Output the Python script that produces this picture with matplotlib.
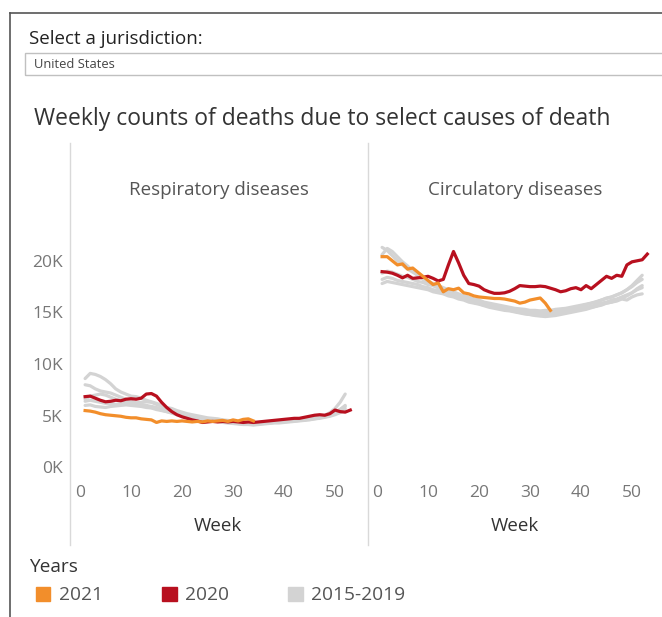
import matplotlib
matplotlib.use("Agg")
import matplotlib.pyplot as plt
from matplotlib.patches import Patch, Rectangle
from matplotlib.lines import Line2D

plt.rcParams['font.family'] = ['Open Sans', 'DejaVu Sans']

# ---- data (weekly deaths, thousands) ----
weeks_2020 = list(range(1, 54))
weeks_2021 = list(range(1, 35))
weeks_base = list(range(1, 53))

resp_2020 = [6.85, 6.9, 6.7, 6.5, 6.35, 6.4, 6.5, 6.45, 6.6, 6.65, 6.6, 6.7, 7.1, 7.15, 6.9,
             6.3, 5.8, 5.4, 5.1, 4.9, 4.75, 4.6, 4.5, 4.35, 4.4, 4.45, 4.4, 4.45, 4.4, 4.45,
             4.4, 4.35, 4.4, 4.35, 4.4, 4.45, 4.5, 4.55, 4.6, 4.65, 4.7, 4.75, 4.75, 4.85,
             4.95, 5.05, 5.1, 5.05, 5.2, 5.55, 5.4, 5.35, 5.55]
resp_2021 = [5.5, 5.45, 5.35, 5.2, 5.1, 5.05, 5.0, 4.95, 4.85, 4.8, 4.8, 4.7, 4.65, 4.6, 4.35,
             4.5, 4.45, 4.5, 4.45, 4.5, 4.45, 4.4, 4.45, 4.4, 4.5, 4.45, 4.5, 4.55, 4.45, 4.6,
             4.5, 4.65, 4.7, 4.5]
resp_base = [
    [8.6, 9.1, 9.0, 8.8, 8.5, 8.1, 7.6, 7.3, 7.1, 6.9, 6.85, 6.7, 6.5, 6.35, 6.2, 6.0, 5.8,
     5.7, 5.5, 5.35, 5.2, 5.1, 5.0, 4.9, 4.8, 4.75, 4.7, 4.6, 4.55, 4.5, 4.45, 4.4, 4.35, 4.3,
     4.3, 4.35, 4.4, 4.4, 4.45, 4.5, 4.5, 4.55, 4.6, 4.6, 4.7, 4.75, 4.85, 4.95, 5.1, 5.3, 5.6, 6.0],
    [8.0, 7.9, 7.6, 7.4, 7.3, 7.2, 7.0, 6.8, 6.6, 6.4, 6.2, 6.1, 6.0, 5.9, 5.8, 5.6, 5.5, 5.35,
     5.2, 5.1, 5.0, 4.9, 4.85, 4.8, 4.7, 4.65, 4.6, 4.5, 4.45, 4.4, 4.35, 4.3, 4.3, 4.25, 4.3,
     4.3, 4.35, 4.4, 4.45, 4.45, 4.5, 4.55, 4.6, 4.65, 4.7, 4.8, 4.9, 5.05, 5.3, 5.7, 6.3, 7.1],
    [6.4, 6.5, 6.4, 6.3, 6.2, 6.2, 6.1, 6.15, 6.2, 6.3, 6.2, 6.0, 5.9, 5.8, 5.7, 5.55, 5.4, 5.3,
     5.15, 5.05, 4.95, 4.85, 4.75, 4.7, 4.6, 4.55, 4.5, 4.4, 4.35, 4.3, 4.25, 4.2, 4.2, 4.15,
     4.2, 4.25, 4.3, 4.35, 4.4, 4.4, 4.45, 4.5, 4.55, 4.6, 4.65, 4.7, 4.8, 4.9, 5.0, 5.2, 5.4, 5.7],
    [6.0, 6.05, 5.9, 5.85, 5.8, 5.9, 5.95, 6.0, 6.05, 6.0, 5.95, 5.9, 5.8, 5.75, 5.6, 5.5, 5.4,
     5.25, 5.1, 5.0, 4.9, 4.8, 4.7, 4.65, 4.55, 4.5, 4.45, 4.35, 4.3, 4.25, 4.2, 4.15, 4.15, 4.1,
     4.15, 4.2, 4.25, 4.3, 4.3, 4.35, 4.4, 4.45, 4.5, 4.55, 4.6, 4.7, 4.75, 4.85, 4.95, 5.1, 5.3, 5.5],
    [6.6, 6.9, 7.0, 7.1, 7.0, 6.8, 6.6, 6.5, 6.4, 6.3, 6.25, 6.3, 6.35, 6.3, 6.1, 5.9, 5.7, 5.5,
     5.35, 5.2, 5.05, 4.95, 4.85, 4.75, 4.65, 4.6, 4.5, 4.45, 4.4, 4.35, 4.3, 4.25, 4.25, 4.2,
     4.25, 4.3, 4.3, 4.35, 4.4, 4.45, 4.5, 4.5, 4.55, 4.6, 4.7, 4.75, 4.85, 5.0, 5.15, 5.35, 5.6, 5.9],
]

circ_2020 = [18.95, 18.9, 18.8, 18.6, 18.35, 18.6, 18.3, 18.35, 18.4, 18.5, 18.3, 18.05, 18.2,
             19.6, 20.9, 19.8, 18.6, 17.8, 17.7, 17.55, 17.2, 17.0, 16.85, 16.85, 16.9, 17.05,
             17.3, 17.6, 17.55, 17.5, 17.5, 17.55, 17.5, 17.35, 17.2, 17.0, 17.1, 17.3, 17.4,
             17.2, 17.6, 17.3, 17.7, 18.1, 18.5, 18.3, 18.6, 18.5, 19.6, 19.9, 20.0, 20.1, 20.65]
circ_2021 = [20.4, 20.4, 20.0, 19.6, 19.7, 19.2, 19.3, 18.9, 18.5, 18.1, 17.7, 17.85, 17.0, 17.3,
             17.2, 17.35, 16.9, 16.8, 16.6, 16.5, 16.45, 16.4, 16.35, 16.35, 16.3, 16.2, 16.1,
             15.9, 16.0, 16.2, 16.3, 16.4, 15.9, 15.2]
circ_base = [
    [21.3, 21.0, 20.5, 20.0, 19.6, 19.2, 18.9, 18.6, 18.3, 18.0, 17.8, 17.6, 17.4, 17.2, 17.0,
     16.8, 16.6, 16.5, 16.3, 16.2, 16.0, 15.9, 15.8, 15.7, 15.6, 15.5, 15.4, 15.35, 15.3, 15.2,
     15.2, 15.15, 15.2, 15.2, 15.3, 15.35, 15.4, 15.5, 15.6, 15.7, 15.8, 15.9, 16.0, 16.2, 16.4,
     16.5, 16.7, 16.9, 17.2, 17.5, 17.9, 18.2],
    [20.6, 21.2, 20.9, 20.4, 19.9, 19.5, 19.0, 18.6, 18.2, 17.9, 17.6, 17.4, 17.2, 17.0, 16.8,
     16.6, 16.4, 16.25, 16.1, 16.0, 15.85, 15.7, 15.6, 15.5, 15.4, 15.3, 15.25, 15.2, 15.1,
     15.05, 15.0, 15.0, 15.05, 15.1, 15.15, 15.25, 15.3, 15.4, 15.5, 15.6, 15.75, 15.9, 16.05,
     16.2, 16.35, 16.5, 16.7, 16.9, 17.2, 17.6, 18.1, 18.6],
    [18.8, 19.0, 18.9, 18.7, 18.5, 18.4, 18.2, 18.0, 17.9, 17.7, 17.6, 17.4, 17.2, 17.0, 16.8,
     16.6, 16.5, 16.3, 16.2, 16.0, 15.9, 15.75, 15.6, 15.5, 15.4, 15.3, 15.2, 15.1, 15.0, 14.95,
     14.9, 14.9, 14.85, 14.9, 14.95, 15.0, 15.1, 15.2, 15.3, 15.4, 15.5, 15.6, 15.75, 15.9, 16.0,
     16.2, 16.3, 16.5, 16.7, 16.9, 17.2, 17.4],
    [18.2, 18.4, 18.3, 18.1, 18.0, 17.9, 17.8, 17.7, 17.5, 17.4, 17.2, 17.1, 16.9, 16.8, 16.6,
     16.4, 16.3, 16.1, 16.0, 15.85, 15.7, 15.6, 15.5, 15.4, 15.3, 15.2, 15.1, 15.0, 14.9, 14.8,
     14.75, 14.7, 14.7, 14.75, 14.8, 14.9, 15.0, 15.1, 15.2, 15.3, 15.4, 15.5, 15.6, 15.8, 15.9,
     16.0, 16.1, 16.3, 16.2, 16.5, 16.7, 16.8],
    [17.8, 18.0, 17.9, 17.8, 17.7, 17.6, 17.5, 17.4, 17.3, 17.2, 17.0, 16.9, 16.8, 16.6, 16.5,
     16.3, 16.2, 16.0, 15.9, 15.8, 15.65, 15.5, 15.4, 15.3, 15.2, 15.15, 15.05, 14.95, 14.85,
     14.8, 14.7, 14.65, 14.6, 14.65, 14.7, 14.8, 14.9, 15.0, 15.1, 15.2, 15.3, 15.45, 15.6, 15.7,
     15.9, 16.0, 16.2, 16.4, 16.6, 16.9, 17.3, 17.6],
]

panel_titles = ['Respiratory diseases', 'Circulatory diseases']
y_ticks = [0, 5, 10, 15, 20]
y_tick_labels = ['0K', '5K', '10K', '15K', '20K']
x_ticks = [0, 10, 20, 30, 40, 50]
legend_labels = ['2021', '2020', '2015-2019']

c_2021 = '#f28e2b'
c_2020 = '#b8101f'
c_base = '#d3d3d3'
tick_col = '#777777'
text_col = '#333333'

W, H = 662, 617
fig = plt.figure(figsize=(W / 100, H / 100), dpi=100)

def fx(px):
    return px / W

def fy(py):
    return 1 - py / H

# outer frame (top and left edge)
fig.add_artist(Line2D([fx(10), 1], [fy(13), fy(13)], color='#555555', lw=1.2))
fig.add_artist(Line2D([fx(10), fx(10)], [fy(13), 0], color='#555555', lw=1.2))

fig.text(fx(29), fy(39), 'Select a jurisdiction:', fontsize=13.5, color='#222222', va='center')
fig.add_artist(Rectangle((fx(25), fy(75)), 1 - fx(25) + 0.01, 22 / H, fill=False,
                         ec='#c0c0c0', lw=1))
fig.text(fx(34), fy(64), 'United States', fontsize=9.3, color='#444444', va='center')

fig.text(fx(34), fy(119), 'Weekly counts of deaths due to select causes of death',
         fontsize=16.5, color=text_col, va='center')

# panels
ax_top, ax_bot = 143, 545
px_per_week = 5.1
px_per_k = 10.33
zero_px = 467.4
panels = [
    (70, 368, 80, resp_2020, resp_2021, resp_base),
    (368, 662, 377, circ_2020, circ_2021, circ_base),
]

for i, (left, right, x0, d20, d21, base) in enumerate(panels):
    ax = fig.add_axes([fx(left), fy(ax_bot), (right - left) / W, (ax_bot - ax_top) / H])
    for s in base:
        ax.plot(weeks_base, s, color=c_base, lw=2.3, solid_capstyle='round', zorder=1)
    ax.plot(weeks_2020, d20, color=c_2020, lw=2.3, zorder=2)
    ax.plot(weeks_2021, d21, color=c_2021, lw=2.3, zorder=3)

    ax.set_xlim(-(x0 - left) / px_per_week, (right - x0) / px_per_week)
    ax.set_ylim((zero_px - ax_bot) / px_per_k, (zero_px - ax_top) / px_per_k)

    for sp in ['top', 'right', 'bottom']:
        ax.spines[sp].set_visible(False)
    ax.spines['left'].set_color('#d9d9d9')
    ax.spines['left'].set_linewidth(1)

    ax.set_xticks(x_ticks)
    ax.tick_params(axis='x', length=0, pad=-43, labelsize=12.5, labelcolor=tick_col)
    ax.set_yticks(y_ticks)
    if i == 0:
        ax.set_yticklabels(y_tick_labels)
        ax.tick_params(axis='y', length=0, pad=5, labelsize=12.5, labelcolor=tick_col)
    else:
        ax.tick_params(axis='y', length=0, labelleft=False)

    ax.set_title(panel_titles[i], fontsize=13.5, color='#555555', pad=0,
                 y=(ax_bot - 190) / (ax_bot - ax_top), va='center')
    ax.set_xlabel('Week', fontsize=13.5, color=text_col)
    ax.xaxis.set_label_coords(((x0 + 27 * px_per_week) - left) / (right - left),
                              (ax_bot - 517) / (ax_bot - ax_top))

# legend
fig.text(fx(29), fy(567), 'Years', fontsize=13.8, color=text_col, va='center')
handles = [Patch(color=c_2021), Patch(color=c_2020), Patch(color=c_base)]
leg = fig.legend(handles, legend_labels, loc='upper left',
                 bbox_to_anchor=(fx(24), fy(575)), ncol=3, frameon=False, fontsize=13.8,
                 handlelength=0.78, handleheight=0.7, handletextpad=0.42,
                 columnspacing=3.1, borderaxespad=0.2)
for t in leg.get_texts():
    t.set_color('#555555')

fig.savefig('out.png', dpi=100)
